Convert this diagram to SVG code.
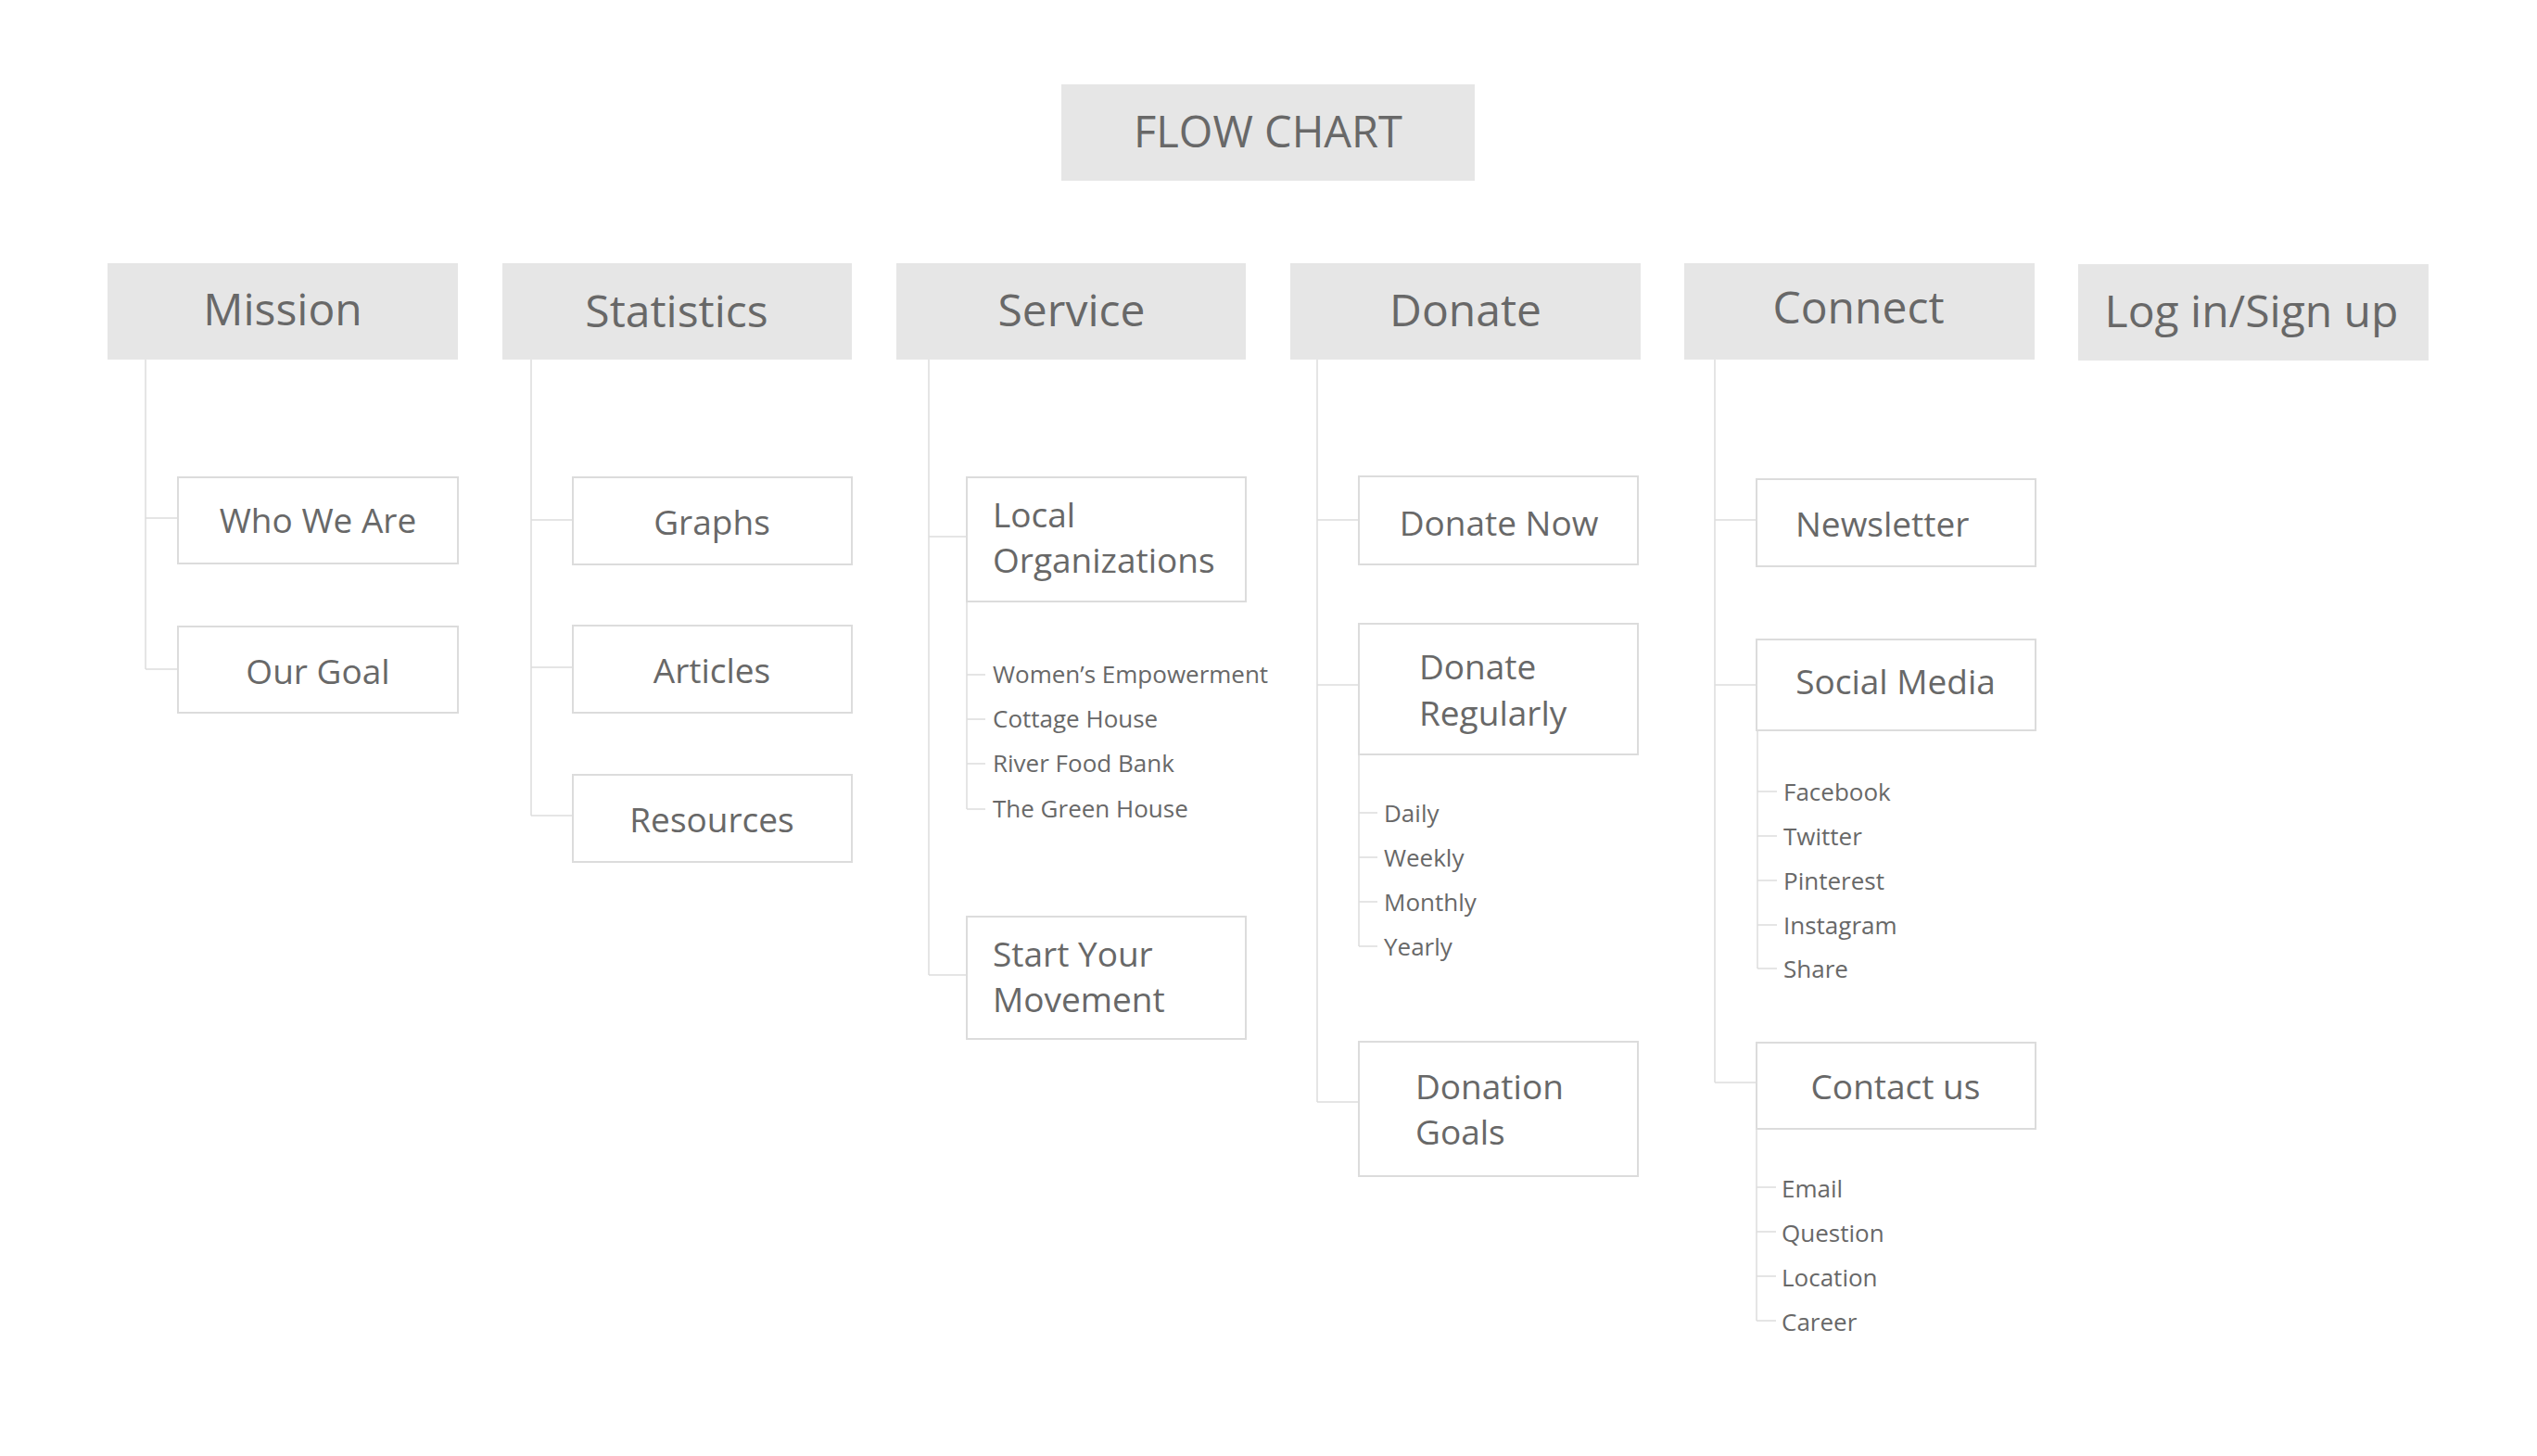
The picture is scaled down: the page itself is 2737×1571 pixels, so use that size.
<svg xmlns="http://www.w3.org/2000/svg" width="2737" height="1571" viewBox="0 0 2737 1571">
<style>
text{font-family:"Open Sans","Noto Sans","DejaVu Sans",sans-serif;fill:#686868}
.hd{fill:#e6e6e6}
.bx{fill:#ffffff;stroke:#dcdcdc;stroke-width:2}
.ln{fill:none;stroke:#dddddd;stroke-width:1.5}
.t1{font-size:47px;text-anchor:middle}
.t2{font-size:48px;text-anchor:middle}
.t3{font-size:37px}
.tc{text-anchor:middle}
.t4{font-size:26px}
</style>
<rect width="2737" height="1571" fill="#ffffff"/>
<g id="connectors">
<path class="ln" d="M157 388V722M157 559H192M157 722H192"/>
<path class="ln" d="M573 388V880M573 561H618M573 720H618M573 880H618"/>
<path class="ln" d="M1002 388V1052M1002 579H1043M1002 1052H1043"/>
<path class="ln" d="M1043 649V873M1043 728H1063M1043 776H1063M1043 824H1063M1043 873H1063"/>
<path class="ln" d="M1421 388V1189M1421 561H1466M1421 739H1466M1421 1189H1466"/>
<path class="ln" d="M1466 814V1021M1466 877H1486M1466 925H1486M1466 973H1486M1466 1021H1486"/>
<path class="ln" d="M1850 388V1168M1850 561H1895M1850 739H1895M1850 1168H1895"/>
<path class="ln" d="M1896 788V1045M1896 854H1917M1896 902H1917M1896 950H1917M1896 998H1917M1896 1045H1917"/>
<path class="ln" d="M1895 1218V1425M1895 1281H1916M1895 1329H1916M1895 1377H1916M1895 1425H1916"/>
</g>
<g id="title"><rect class="hd" x="1145" y="91" width="446" height="104"/><text class="t1" x="1368" y="159">FLOW CHART</text></g>
<g id="mission"><rect class="hd" x="116" y="284" width="378" height="104"/><text class="t2" x="305" y="351">Mission</text></g>
<g id="statistics"><rect class="hd" x="542" y="284" width="377" height="104"/><text class="t2" x="730" y="353">Statistics</text></g>
<g id="service"><rect class="hd" x="967" y="284" width="377" height="104"/><text class="t2" x="1156" y="352">Service</text></g>
<g id="donate"><rect class="hd" x="1392" y="284" width="378" height="104"/><text class="t2" x="1581" y="352">Donate</text></g>
<g id="connect"><rect class="hd" x="1817" y="284" width="378" height="104"/><text class="t2" x="2005" y="349">Connect</text></g>
<g id="login"><rect class="hd" x="2242" y="285" width="378" height="104"/><text class="t2" x="2429" y="353">Log in/Sign up</text></g>
<g id="who-we-are"><rect class="bx" x="192" y="515" width="302" height="93"/><text class="t3 tc" x="343" y="575">Who We Are</text></g>
<g id="our-goal"><rect class="bx" x="192" y="676" width="302" height="93"/><text class="t3 tc" x="343" y="738">Our Goal</text></g>
<g id="graphs"><rect class="bx" x="618" y="515" width="301" height="94"/><text class="t3 tc" x="768" y="577">Graphs</text></g>
<g id="articles"><rect class="bx" x="618" y="675" width="301" height="94"/><text class="t3 tc" x="768" y="737">Articles</text></g>
<g id="resources"><rect class="bx" x="618" y="836" width="301" height="94"/><text class="t3 tc" x="768" y="898">Resources</text></g>
<g id="local-organizations"><rect class="bx" x="1043" y="515" width="301" height="134"/><text class="t3" x="1071" y="569">Local</text><text class="t3" x="1071" y="618">Organizations</text></g>
<g id="local-items">
<text class="t4" x="1071" y="737">Women’s Empowerment</text>
<text class="t4" x="1071" y="785">Cottage House</text>
<text class="t4" x="1071" y="833">River Food Bank</text>
<text class="t4" x="1071" y="882">The Green House</text>
</g>
<g id="start-your-movement"><rect class="bx" x="1043" y="989" width="301" height="132"/><text class="t3" x="1071" y="1043">Start Your</text><text class="t3" x="1071" y="1092">Movement</text></g>
<g id="donate-now"><rect class="bx" x="1466" y="514" width="301" height="95"/><text class="t3 tc" x="1617" y="578">Donate Now</text></g>
<g id="donate-regularly"><rect class="bx" x="1466" y="673" width="301" height="141"/><text class="t3" x="1531" y="733">Donate</text><text class="t3" x="1531" y="783">Regularly</text></g>
<g id="regular-items">
<text class="t4" x="1493" y="887">Daily</text>
<text class="t4" x="1493" y="935">Weekly</text>
<text class="t4" x="1493" y="983">Monthly</text>
<text class="t4" x="1493" y="1031">Yearly</text>
</g>
<g id="donation-goals"><rect class="bx" x="1466" y="1124" width="301" height="145"/><text class="t3" x="1527" y="1186">Donation</text><text class="t3" x="1527" y="1235">Goals</text></g>
<g id="newsletter"><rect class="bx" x="1895" y="517" width="301" height="94"/><text class="t3" x="1937" y="579">Newsletter</text></g>
<g id="social-media"><rect class="bx" x="1895" y="690" width="301" height="98"/><text class="t3 tc" x="2045" y="749">Social Media</text></g>
<g id="social-items">
<text class="t4" x="1924" y="864">Facebook</text>
<text class="t4" x="1924" y="912">Twitter</text>
<text class="t4" x="1924" y="960">Pinterest</text>
<text class="t4" x="1924" y="1008">Instagram</text>
<text class="t4" x="1924" y="1055">Share</text>
</g>
<g id="contact-us"><rect class="bx" x="1895" y="1125" width="301" height="93"/><text class="t3 tc" x="2045" y="1186">Contact us</text></g>
<g id="contact-items">
<text class="t4" x="1922" y="1292">Email</text>
<text class="t4" x="1922" y="1340">Question</text>
<text class="t4" x="1922" y="1388">Location</text>
<text class="t4" x="1922" y="1436">Career</text>
</g>
</svg>
